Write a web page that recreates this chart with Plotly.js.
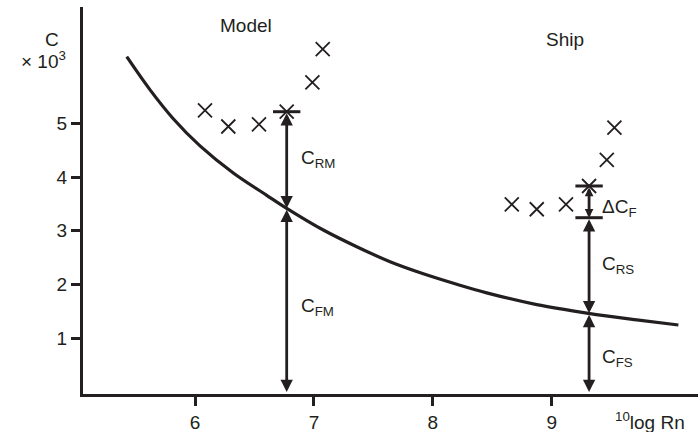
<!DOCTYPE html>
<html>
<head>
<meta charset="utf-8">
<script src="https://cdn.plot.ly/plotly-3.0.1.min.js"></script>
<style>html,body{margin:0;padding:0;background:#fff;}#chart{width:698px;height:432px;}</style>
</head>
<body>
<div id="chart"></div>
<script>
// Friction line
var curveX = [5.426, 5.622, 5.817, 6.042, 6.322, 6.603, 6.771, 7.079, 7.360, 7.640, 7.920, 8.201, 8.453, 8.874, 9.308, 9.715, 10.065];
var curveY = [6.238, 5.621, 5.085, 4.580, 4.075, 3.660, 3.418, 3.014, 2.703, 2.424, 2.200, 2.005, 1.845, 1.625, 1.464, 1.342, 1.247];
// Model measurements
var modelX = [6.084, 6.280, 6.538, 6.771, 6.987, 7.074];
var modelY = [5.24, 4.94, 4.98, 5.215, 5.76, 6.38];
// Ship measurements
var shipX = [8.664, 8.874, 9.120, 9.314, 9.463, 9.527];
var shipY = [3.49, 3.40, 3.49, 3.833, 4.32, 4.92];
// Decomposition points
var modelRn = 6.771, modelCT = 5.215, modelCF = 3.418;
var shipRn = 9.314, shipCT = 3.833, shipCFplus = 3.243, shipCF = 1.464;
var xTicks = [6, 7, 8, 9];
var yTicks = [1, 2, 3, 4, 5];

var INK = '#231f20';
var FONT = 'Liberation Sans, Arial, sans-serif';
var BAR = 0.115;

function bar(xc, yc) {
  return {x: [xc - BAR, xc + BAR], y: [yc, yc], mode: 'lines', line: {color: INK, width: 3}, hoverinfo: 'skip', showlegend: false};
}

var traces = [
  {x: curveX, y: curveY, mode: 'lines', line: {color: INK, width: 3.2, shape: 'spline', smoothing: 1}, showlegend: false},
  {x: modelX, y: modelY, mode: 'markers', marker: {symbol: 'x-thin', size: 14, line: {color: INK, width: 1.8}}, showlegend: false},
  {x: shipX, y: shipY, mode: 'markers', marker: {symbol: 'x-thin', size: 14, line: {color: INK, width: 1.8}}, showlegend: false},
  bar(modelRn, modelCT),
  bar(shipRn, shipCT),
  bar(shipRn, shipCFplus)
];

function arrow(xv, y0, y1, sz) {
  return {x: xv, y: y1, ax: xv, ay: y0, xref: 'x', yref: 'y', axref: 'x', ayref: 'y',
    text: '', showarrow: true, arrowside: 'end+start', arrowhead: 2, arrowsize: sz || 0.88,
    arrowwidth: 2.8, arrowcolor: INK, standoff: 0, startstandoff: 0};
}
function label(xv, yv, txt) {
  return {x: xv, y: yv, xref: 'x', yref: 'y', text: txt, showarrow: false, xanchor: 'left', yanchor: 'middle',
    font: {family: FONT, size: 19, color: INK}};
}
function ptext(xp, yp, txt, anchor) {
  return {x: xp, y: yp, xref: 'paper', yref: 'paper', text: txt, showarrow: false, xanchor: anchor || 'center', yanchor: 'middle',
    font: {family: FONT, size: 19, color: INK}};
}

var annotations = [
  arrow(modelRn, modelCT, modelCF),
  arrow(modelRn, modelCF, 0),
  arrow(shipRn, shipCT, shipCFplus, 0.62),
  arrow(shipRn, shipCFplus, shipCF),
  arrow(shipRn, shipCF, 0),
  label(6.875, 4.33, 'C<sub>RM</sub>'),
  label(6.875, 1.59, 'C<sub>FM</sub>'),
  label(9.405, 2.37, 'C<sub>RS</sub>'),
  label(9.405, 0.63, 'C<sub>FS</sub>'),
  label(9.405, 3.42, '\u0394C<sub>F</sub>'),
  ptext(0.265, 0.953, 'Model'),
  ptext(0.784, 0.917, 'Ship'),
  ptext(-0.0504, 0.915, 'C'),
  ptext(-0.065, 0.863, '\u00d7 10<sup>3</sup>'),
  ptext(0.922, -0.070, '<sup>10</sup>log Rn')
];

var layout = {
  width: 698, height: 432,
  margin: {l: 83, r: 0, t: 7, b: 38},
  paper_bgcolor: '#fff', plot_bgcolor: '#fff',
  font: {family: FONT, size: 19, color: INK},
  showlegend: false,
  xaxis: {range: [5.058, 10.23], tickvals: xTicks, ticktext: xTicks.map(String), ticks: 'outside', ticklen: 9, tickwidth: 3,
    tickcolor: INK, showline: true, linewidth: 3, linecolor: INK, showgrid: false, zeroline: false,
    tickfont: {family: FONT, size: 19, color: INK}},
  yaxis: {range: [-0.037, 7.163], tickvals: yTicks, ticktext: yTicks.map(String), ticks: 'outside', ticklen: 9, tickwidth: 3,
    tickcolor: INK, showline: true, linewidth: 3, linecolor: INK, showgrid: false, zeroline: false,
    tickfont: {family: FONT, size: 19, color: INK}},
  annotations: annotations
};

Plotly.newPlot('chart', traces, layout, {staticPlot: true, displayModeBar: false});
</script>
</body>
</html>
